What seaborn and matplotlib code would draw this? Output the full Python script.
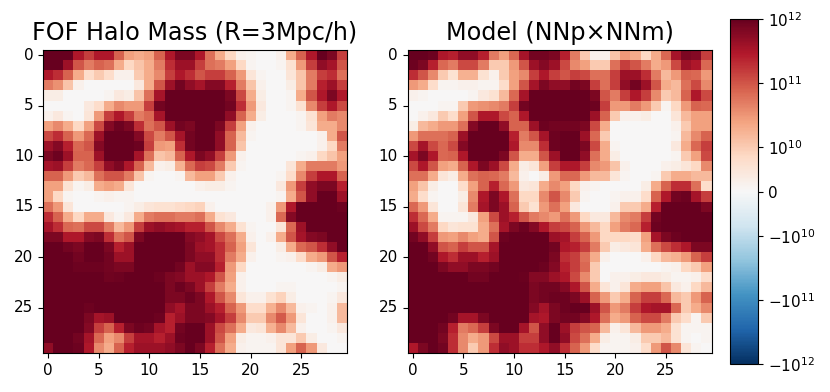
import numpy as np
import matplotlib
matplotlib.use("Agg")
import matplotlib.pyplot as plt
from matplotlib.colors import SymLogNorm
import seaborn as sns

# halo mass per cell, in units of 1e10
fof_mass = [
    [100,100,100,30,15,30,30,8,2.5,2,2.5,8,30,70,70,30,6,2,0.8,0.2,0.1,0,0,0.2,2,8,30,100,70,15],
    [100,100,40,10,5,8,6,2,0.8,1.2,2,5,20,40,40,15,6,5,2.5,0.8,0.1,0,0,0.1,0.6,3,15,50,35,10],
    [30,20,8,2,0.7,1,0.7,0.2,0.2,1,2,4,15,30,20,10,15,15,8,3,0.5,0.1,0,0,0.5,1.2,5,15,20,6],
    [5,3.5,1.2,0.2,0,0,0,0,0,0.4,2,10,40,80,50,35,60,60,25,5,1.2,0.2,0,0,0.3,1.2,5,25,40,15],
    [0.3,0.3,0,0,0,0,0.1,0.4,0.3,1.2,6,35,100,100,100,100,100,100,70,12,2,0.3,0,0,0.1,2,10,30,70,30],
    [0,0,0,0,0.4,0.7,2,4,3,3,15,80,100,100,100,100,100,100,80,20,3,0.4,0,0,0.1,0.6,4,15,30,12],
    [0.2,0.4,0.1,0,0.5,3,15,30,15,5,7,35,100,100,100,100,100,100,50,8,2,0.3,0,0,0,0.1,0.6,2.5,5,4],
    [2.5,4,2,0.8,2.5,12,60,90,70,20,6,10,40,80,70,100,100,70,15,2.5,0.2,0,0,0,0,0.1,0.5,2,2,4],
    [12,20,8,3,7,40,100,100,100,60,12,5,10,35,80,100,100,50,8,1.5,0.1,0,0,0,0,0,0,0.2,2,10],
    [40,60,25,7,10,60,100,100,100,90,15,3,2.5,20,80,100,100,50,8,1.2,0,0,0,0,0,0,0,0.2,0.8,5],
    [70,90,40,8,8,40,100,100,100,35,6,1.2,1.5,8,30,70,50,15,3,0.2,0,0,0,0,0,0.1,0.2,0.8,1.2,2.5],
    [35,40,15,5,7,15,50,70,30,8,1.5,0.2,0.3,1.8,7,15,12,5,1,0.1,0,0,0,0,0.5,2,5,5,5,3],
    [8,8,3,1,1.5,6,10,10,5,1.2,0.1,0,0,0.1,1.5,2.5,2.5,1,0.2,0,0,0,0,0.1,0.7,4,15,30,30,8],
    [2.5,2.5,0.6,0.1,0.3,2,2.5,2,0.5,0,0,0,0,0,0,0.2,0.3,0.3,0.1,0,0,0,0,0.4,3,15,50,70,70,25],
    [2.5,0.8,0.1,0,0,0.1,0.2,0.1,0.1,0,0,0,0,0,0,0,0,0,0,0,0,0,0,0.1,2,10,50,100,100,40],
    [6,3,0.5,0,0,0,0,0,0.1,0.3,0.5,0.6,0.6,0.7,0.8,0.9,0.2,0,0,0,0,0,0.2,3,30,100,100,100,100,90],
    [20,8,2,0.8,2,2,0.4,0.1,0.4,2,5,6,6,5,5,6,2,0.6,0.4,0,0,0,0.2,7,60,100,100,100,100,100],
    [35,20,7,6,12,12,5,1.5,3,15,40,50,40,35,25,25,10,4,2,0.6,0.1,0,0,0.5,7,40,100,100,100,100],
    [70,70,30,30,60,70,20,6,10,70,100,100,100,100,60,50,35,12,6,2,0.2,0,0.2,2,10,35,60,70,100,100],
    [100,100,80,70,100,100,70,25,40,100,100,100,100,100,70,40,35,20,8,2.5,0.5,0,0,0.3,2,7,10,20,50,100],
    [100,100,100,80,100,100,80,40,40,100,100,100,100,100,70,50,50,20,5,2,0.2,0,0,0.1,0.2,0.7,2,3,10,25],
    [100,100,100,90,90,90,80,70,70,100,100,100,100,80,40,60,60,25,3,0.8,0,0,0,0,0,0,0.1,0.3,2,3],
    [100,100,100,100,100,100,85,90,100,100,100,90,70,60,40,40,30,10,2.5,0.2,0,0,0,0,0,0,0,0,0.1,0.3],
    [100,100,100,100,100,100,100,100,100,100,100,100,70,90,70,40,15,5,2,0.2,0,0,0,0.1,0.1,0,0,0,0,0.1],
    [100,100,100,100,100,100,100,100,100,100,100,100,70,70,90,70,30,10,4,0.5,0.2,0.2,0.6,0.9,0.3,0,0,0,0.1,0.4],
    [100,100,100,100,90,100,100,100,100,100,100,100,50,35,70,70,40,25,8,3,0.7,0.7,1.8,4,1.5,0.2,0.1,0,0.2,1.5],
    [100,100,100,100,70,35,40,100,100,100,100,90,25,40,70,70,60,35,15,4,1,1,4,9,3,0.5,0,0,0.2,1.5],
    [100,100,100,100,60,15,8,25,70,90,80,35,25,80,100,100,40,12,6,2,0.4,0.5,1.8,4,1.5,0.2,0,0,0.1,0.4],
    [100,100,100,80,35,7,2.5,4,15,35,35,25,40,90,100,100,40,10,2.5,0.3,0.1,0.1,0.2,0.5,0.5,1,0.3,0,0,0.1],
    [50,100,100,90,30,4,2,8,25,40,40,40,50,70,100,70,25,6,2,0.2,0.1,0.1,0.1,0.5,2.5,8,3,0.4,0,0],
]

model_mass = [
    [100,100,90,30,25,50,50,25,5,2.5,7,35,80,80,70,25,5,1,0.2,0.2,1.2,3,2,0.8,2,7,35,70,60,15],
    [90,70,25,7,5,12,12,5,1,1,3,10,40,60,40,12,4,2.5,1,1,6,15,10,5,2,3,12,40,30,7],
    [20,10,4,1,0.6,1.8,1.8,0.6,0.2,1,2.5,4,15,30,15,10,15,12,6,6,15,40,40,20,5,1.5,3,8,7,3],
    [3,2,0.7,0.1,0.1,0.2,0.2,0.1,0.1,0.7,2.5,10,35,70,50,50,80,70,15,6,15,50,80,40,10,2,1.5,6,12,4],
    [0.2,0.1,0,0,0,0,0.1,0.4,0.6,1.5,7,35,100,100,100,100,100,100,70,10,5,15,30,15,4,1,1.5,8,30,12],
    [0,0,0,0.1,0.1,1,3,3.5,4,5,15,80,100,100,100,100,100,100,90,15,3,3,5,3,1,0.1,0.8,3,8,7],
    [0,0.2,0.4,1,0.7,2.5,10,30,30,12,8,30,100,100,100,100,100,100,40,8,1,0.2,0.2,0.3,0,0,0.5,1.5,2.5,2.5],
    [0.3,1.5,2,3,3,6,60,100,100,50,8,8,40,90,80,80,80,70,12,2,0,0,0,0,0,0,0.2,1,2.5,2.5],
    [3,6,6,6,8,40,100,100,100,100,25,5,10,35,90,100,100,40,7,1,0,0,0,0,0,0,0.1,1.5,4,8],
    [12,35,12,7,12,60,100,100,100,100,30,4,4,20,90,100,100,70,12,2,0.1,0,0,0,0,0,0.4,2,7,15],
    [35,70,30,7,8,30,100,100,100,70,10,2,2,10,40,100,100,50,6,2,0.3,0,0,0,0,0,0.1,1,2.5,12],
    [12,30,10,2.5,2,8,30,70,40,12,2,0.3,0.5,2.5,15,30,30,15,4,3,1.2,0.2,0,0,0,0.2,0.3,0.5,0.8,4],
    [6,6,2,0.5,0.3,2,6,8,7,5,1.5,0.2,0,0.3,3,7,7,3,1.5,1.5,0.5,0.1,0,0,0.1,1,2,2,1.5,1.5],
    [2.5,1.2,0.3,0,0,0.7,2.5,8,25,7,3,0.4,0.5,2,4,2.5,0.8,0.2,0.1,0,0,0,0,0.3,2,8,20,20,6,0.7],
    [2,0.7,0.1,0,0,0.3,4,30,70,30,6,0.8,0.8,4,10,4,1,0.1,0,0,0.1,0.2,0.2,0.7,8,30,80,90,35,15],
    [7,3,0.5,0,0,0.5,5,35,70,40,8,1,0.6,3,6,2.5,0.4,0,0,0,0.2,1,1,2,25,100,100,100,100,70],
    [20,7,2,0.1,0.1,0.1,0.4,2.5,12,40,25,10,5,4,3,6,3,0.8,0.4,0.4,1.5,4,5,15,80,100,100,100,100,100],
    [40,12,5,0.8,0.5,0.6,0.6,2,6,35,70,90,60,30,15,12,8,3,1.5,0.8,2.5,5,7,25,90,100,100,100,100,100],
    [80,50,15,3,2.5,4,2.5,2,10,90,100,100,100,100,40,35,15,8,3,0.8,0.8,0.8,0.7,2.5,35,70,90,100,100,100],
    [100,100,50,10,8,15,10,10,35,100,100,100,100,100,80,30,25,15,5,1,0.3,0.4,0.5,2,6,12,20,30,70,70],
    [100,100,80,30,20,40,40,25,40,100,100,100,100,100,70,20,15,6,2,0.2,0,0,0,0.2,0.8,1.5,1.8,3,8,15],
    [100,100,100,70,50,50,70,70,80,100,100,100,100,90,60,25,15,7,1,0,0,0,0,0,0,0.1,0.2,0.8,1,2.5],
    [100,100,100,100,100,100,80,80,100,100,100,95,60,60,40,30,12,4,1,0,0.2,0.2,0.3,0.4,0.4,0.3,0.1,0.1,0.2,0.7],
    [100,100,100,100,100,100,100,100,100,100,100,100,70,80,80,60,30,10,2,0.5,0.2,0.5,2,2.5,2.5,1.2,0.4,0.2,0.8,1.5],
    [100,100,100,100,100,100,100,100,100,100,100,100,70,80,90,90,70,40,8,3,1,2,8,15,15,7,1.5,1,3,8],
    [100,100,100,100,100,100,100,100,100,100,100,100,60,35,70,90,100,100,40,10,3,5,15,30,35,35,7,1,2,4],
    [100,100,100,100,80,35,35,70,100,100,100,100,35,30,70,80,80,60,30,6,2,3,8,12,12,5,1,0.7,0.1,1],
    [100,100,100,80,25,5,7,15,70,100,100,35,10,50,100,40,15,10,8,1.5,0.2,0.5,1.5,3,3,2,0.6,0.1,0.1,0.1],
    [100,100,100,70,20,4,2,3,12,40,40,15,15,50,100,50,12,6,2,0.3,0.1,0.1,0.3,1,1,1.5,0.6,0.1,0,0.1],
    [30,70,100,80,20,4,1,3,20,50,40,20,20,30,50,20,8,3,0.7,0.1,0.1,0.1,0.2,0.7,3,10,4,0.5,0.1,0],
]

panel_titles = ["FOF Halo Mass (R=3Mpc/h)", "Model (NNp\u00d7NNm)"]
axis_ticks = [0, 5, 10, 15, 20, 25]
cbar_ticks = [1e12, 1e11, 1e10, 0, -1e10, -1e11, -1e12]
cbar_labels = [r"$\mathdefault{10^{12}}$", r"$\mathdefault{10^{11}}$", r"$\mathdefault{10^{10}}$", "0",
               r"$\mathdefault{-10^{10}}$", r"$\mathdefault{-10^{11}}$", r"$\mathdefault{-10^{12}}$"]

W, H = 830, 392
fig = plt.figure(figsize=(W / 100, H / 100), dpi=100)
ax1 = fig.add_axes([43 / W, 1 - 353 / H, 304 / W, 303 / H])
ax2 = fig.add_axes([407.5 / W, 1 - 353 / H, 304 / W, 303 / H])
cax = fig.add_axes([729.5 / W, 1 - 364 / H, 28.5 / W, 345 / H])

norm = SymLogNorm(linthresh=1e10, linscale=0.63, vmin=-1e12, vmax=1e12)

for ax, grid, title, with_bar in zip([ax1, ax2], [fof_mass, model_mass], panel_titles, [True, False]):
    sns.heatmap(np.array(grid) * 1e10, cmap="RdBu_r", norm=norm, ax=ax, square=False,
                cbar=with_bar, cbar_ax=cax if with_bar else None)
    ax.set_xticks([t + 0.5 for t in axis_ticks])
    ax.set_xticklabels(axis_ticks, rotation=0, fontsize=11)
    ax.set_yticks([t + 0.5 for t in axis_ticks])
    ax.set_yticklabels(axis_ticks, rotation=0, fontsize=11)
    ax.tick_params(length=3.5, width=0.8)
    for spine in ax.spines.values():
        spine.set_visible(True)
        spine.set_linewidth(0.8)
    ax.set_title(title, fontsize=17.2, pad=7.5)

cb = ax1.collections[0].colorbar
cb.set_ticks(cbar_ticks)
cb.set_ticklabels(cbar_labels)
cb.minorticks_off()
cb.ax.tick_params(length=3.5, width=0.8, labelsize=11)
cb.outline.set_linewidth(0.8)

fig.savefig("out.png", dpi=100)
plt.close(fig)
